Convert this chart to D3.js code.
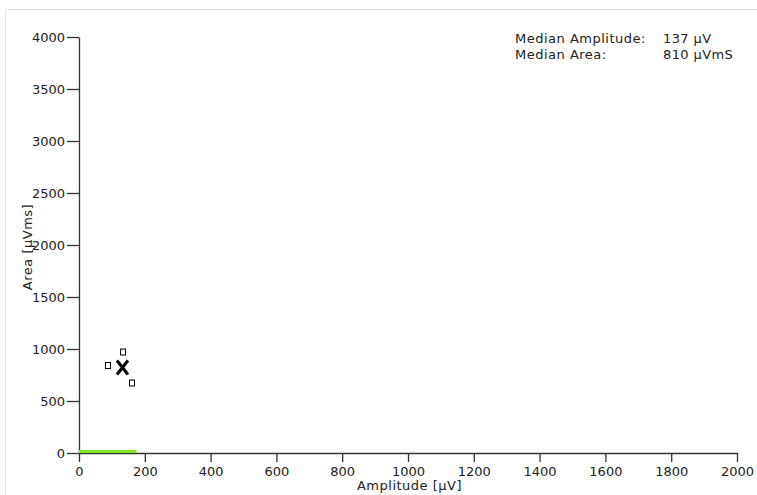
<!DOCTYPE html>
<html><head><meta charset="utf-8">
<script src="https://cdn.jsdelivr.net/npm/d3@7"></script>
<style>body{margin:0;background:#fff;}svg{display:block;font-family:"DejaVu Sans",Verdana,sans-serif;}</style>
</head><body>
<svg id="c" width="757" height="495"></svg>
<script>
const xTicks = [0,200,400,600,800,1000,1200,1400,1600,1800,2000];
const yTicks = [0,500,1000,1500,2000,2500,3000,3500,4000];
const pointAmp = [88,134,161];
const pointArea = [841,971,673];
const medianMarker = [132,822];
const greenRange = [0,175];
const infoLabels = ["Median Amplitude:","Median Area:"];
const infoValues = ["137 µV","810 µVmS"];

const svg = d3.select("#c");
const x = d3.scaleLinear().domain([0,2000]).range([79,737]);
const y = d3.scaleLinear().domain([0,4000]).range([453,37]);

// frame
svg.append("path").attr("d","M5.5,800 V9.5 H800").attr("fill","none").attr("stroke","#e2e2e2").attr("stroke-width",1);

const axCol = "#333";
const fmt = d3.format("d");
const xa = svg.append("g").attr("transform","translate(0,453)").call(d3.axisBottom(x).tickValues(xTicks).tickFormat(fmt).tickSize(9).tickPadding(5).tickSizeOuter(0));
const ya = svg.append("g").attr("transform","translate(79,0)").call(d3.axisLeft(y).tickValues(yTicks).tickFormat(fmt).tickSize(12).tickPadding(2).tickSizeOuter(0));
[xa,ya].forEach(g=>{
  g.select(".domain").attr("stroke",axCol).attr("stroke-width",1.3);
  g.selectAll(".tick line").attr("stroke",axCol).attr("stroke-width",1.3);
  g.selectAll(".tick text").attr("fill","#222").attr("font-size",13).attr("font-family","DejaVu Sans, Verdana, sans-serif");
});
xa.selectAll(".tick text").attr("dy","0.71em");
ya.selectAll(".tick text").attr("dy","0.34em");

// green line
svg.append("line").attr("x1",x(greenRange[0])).attr("x2",x(greenRange[1])).attr("y1",y(0)-1.5).attr("y2",y(0)-1.5)
  .attr("stroke","#7ee619").attr("stroke-width",3);

// points
pointAmp.forEach((a,i)=>{
  svg.append("rect").attr("x",x(a)-2.5).attr("y",y(pointArea[i])-3).attr("width",5).attr("height",6)
    .attr("fill","none").attr("stroke","#000").attr("stroke-width",1);
});
// median X
const mx = x(medianMarker[0]), my = y(medianMarker[1]);
svg.append("path").attr("d",`M${mx-5.5},${my-7} L${mx+5.5},${my+7} M${mx+5.5},${my-7} L${mx-5.5},${my+7}`)
  .attr("stroke","#000").attr("stroke-width",3).attr("fill","none");

// axis labels
svg.append("text").attr("x",409.5).attr("y",490).attr("text-anchor","middle").attr("font-size",13).attr("letter-spacing",0.5).attr("fill","#222").text("Amplitude [µV]");
svg.append("text").attr("transform","translate(31.5,247) rotate(-90)").attr("text-anchor","middle").attr("font-size",13).attr("letter-spacing",0.5).attr("fill","#222").text("Area [µVms]");

// info
infoLabels.forEach((t,i)=>{
  svg.append("text").attr("x",515).attr("y",43+i*16).attr("font-size",13).attr("letter-spacing",0.5).attr("fill","#222").text(t);
  svg.append("text").attr("x",663).attr("y",43+i*16).attr("font-size",13).attr("letter-spacing",0.4).attr("fill","#222").text(infoValues[i]);
});
</script>
</body></html>
